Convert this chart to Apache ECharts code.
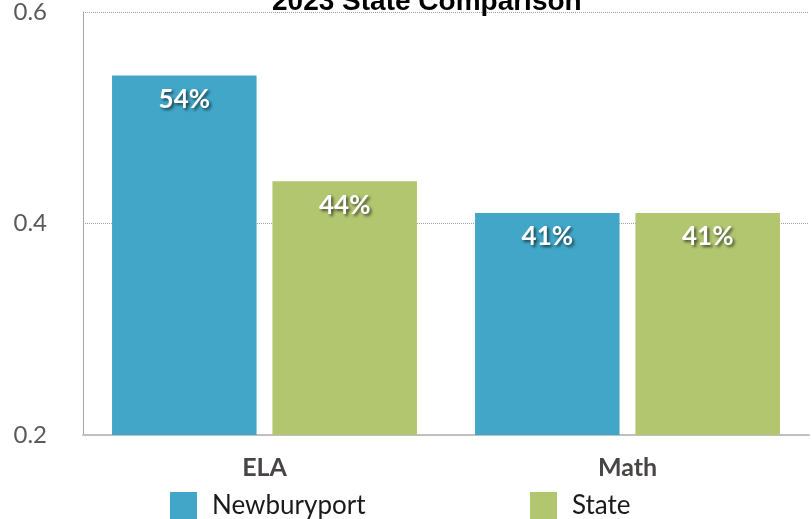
<!DOCTYPE html>
<html><head><meta charset="utf-8">
<script src="https://cdn.jsdelivr.net/npm/echarts@6/dist/echarts.min.js"></script>
<style>html,body{margin:0;padding:0;background:#fff}#c{width:812px;height:519px}</style>
</head><body><div id="c"></div>
<script>
var categories = ['ELA', 'Math'];
var newburyport = [0.54, 0.41];
var state = [0.44, 0.41];
var seriesNames = ['Newburyport', 'State'];
var yTicks = { min: 0.2, max: 0.6, interval: 0.2 };

var labelStyle = {
  show: true, position: 'insideTop', distance: 11,
  formatter: function (p) { return Math.round(p.value * 100) + '%'; },
  color: '#fff', fontFamily: 'Lato', fontWeight: 'bold', fontSize: 26,
  textShadowColor: 'rgba(0,0,0,0.6)', textShadowBlur: 3, textShadowOffsetX: 2, textShadowOffsetY: 2
};
var legendText = { fontFamily: 'Lato', fontWeight: 'normal', fontSize: 26, color: '#1a1a1a' };
var chart = echarts.init(document.getElementById('c'));
chart.setOption({
  animation: false,
  title: { text: '2023 State Comparison', left: 267, top: -17,
    textStyle: { fontFamily: 'Liberation Sans', fontWeight: 'bold', fontSize: 28, color: '#000' } },
  grid: { left: 83, right: 3, top: 11, bottom: 84 },
  legend: [
    { data: [seriesNames[0]], left: 170, top: 492, padding: 0, itemWidth: 27, itemHeight: 27,
      icon: 'rect', textStyle: Object.assign({ padding: [0, 0, 0, 10] }, legendText) },
    { data: [seriesNames[1]], left: 530, top: 492, padding: 0, itemWidth: 27, itemHeight: 27,
      icon: 'rect', textStyle: Object.assign({ padding: [0, 0, 0, 10] }, legendText) }
  ],
  xAxis: { type: 'category', data: categories,
    axisLine: { lineStyle: { color: '#bfbfbf', width: 2 } }, axisTick: { show: false },
    axisLabel: { margin: 20, fontFamily: 'Lato', fontWeight: 'bold', fontSize: 25, color: '#4a4545' } },
  yAxis: { type: 'value', min: yTicks.min, max: yTicks.max, interval: yTicks.interval,
    axisLine: { show: true, lineStyle: { color: '#a6a6a6', width: 1 } }, axisTick: { show: false },
    axisLabel: { margin: 36, fontFamily: 'Lato', fontWeight: 'normal', fontSize: 24, color: '#5a5a5a',
      formatter: function (v) { return v.toFixed(1); } },
    splitLine: { lineStyle: { type: 'dotted', color: '#a0a0a0' } } },
  series: [
    { name: seriesNames[0], type: 'bar', data: newburyport, barGap: '11%', barCategoryGap: '16%',
      itemStyle: { color: '#41A6C7' }, label: labelStyle },
    { name: seriesNames[1], type: 'bar', data: state,
      itemStyle: { color: '#B2C56F' }, label: labelStyle }
  ]
});
</script></body></html>
